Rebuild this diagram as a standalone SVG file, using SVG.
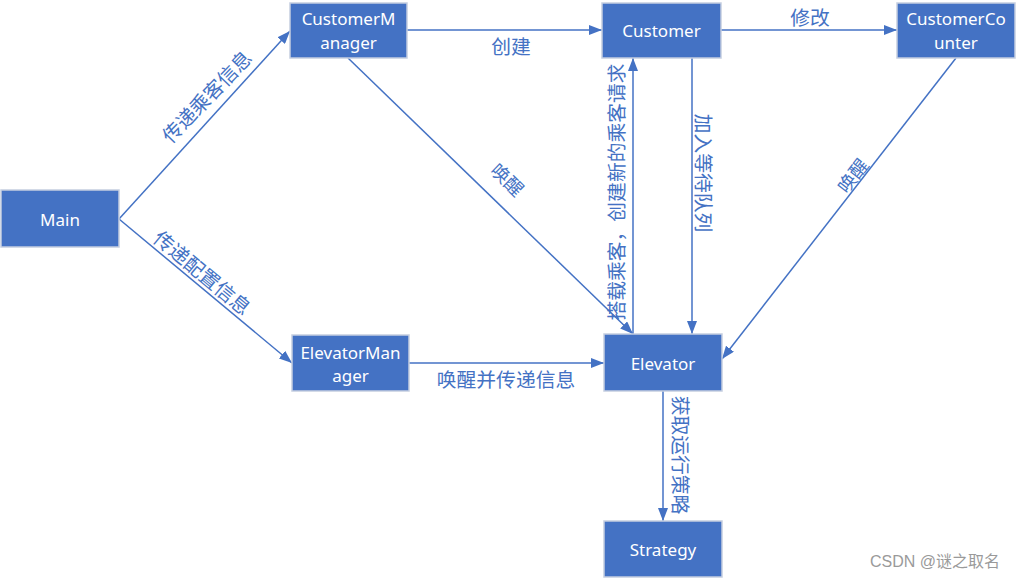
<svg xmlns="http://www.w3.org/2000/svg" width="1017" height="578" viewBox="0 0 1017 578">
<defs>
<marker id="arr" viewBox="0 0 13 10" refX="13" refY="5" markerWidth="13" markerHeight="10" markerUnits="userSpaceOnUse" orient="auto"><path d="M0,0 L13,5 L0,10 z" fill="#4472C4"/></marker>
<style>
.node rect{fill:#4472C4;stroke:#C5CEE0;stroke-width:1.5}
.node text{fill:#FFFFFF;font-family:"Noto Sans","Open Sans",sans-serif;font-size:17px;text-anchor:middle;dominant-baseline:central}
.conn line{stroke:#4472C4;stroke-width:1.5;marker-end:url(#arr)}
.lbl{fill:#4472C4;font-family:"Noto Sans CJK SC",sans-serif;font-size:19.8px;text-anchor:middle;dominant-baseline:central}
.sm{font-size:18.5px}
.wm{fill:#9a9a9a;font-family:"Liberation Sans","Noto Sans CJK SC",sans-serif;font-size:16px;text-anchor:middle;dominant-baseline:central}
</style>
</defs>
<rect width="1017" height="578" fill="#FFFFFF"/>
<g id="connectors" class="conn">
<line x1="119" y1="219" x2="290" y2="31"/>
<line x1="119" y1="219" x2="292" y2="363"/>
<line x1="407" y1="30" x2="602" y2="30"/>
<line x1="348" y1="58" x2="633" y2="334"/>
<line x1="721" y1="30" x2="897" y2="30"/>
<line x1="692" y1="58" x2="692" y2="334"/>
<line x1="633" y1="334" x2="633" y2="58"/>
<line x1="956" y1="58" x2="722" y2="359"/>
<line x1="409" y1="363" x2="604" y2="363"/>
<line x1="663" y1="391" x2="663" y2="521"/>
</g>
<g id="labels">
<text class="lbl" transform="translate(206,96) rotate(-46)">传递乘客信息</text>
<text class="lbl" transform="translate(203,272) rotate(39.6)">传递配置信息</text>
<text class="lbl" x="511" y="45">创建</text>
<text class="lbl sm" transform="translate(508,179) rotate(44.2)">唤醒</text>
<text class="lbl" x="810" y="16">修改</text>
<text class="lbl" transform="translate(704,173) rotate(90)">加入等待队列</text>
<text class="lbl" transform="translate(615,192) rotate(-90)">搭载乘客，创建新的乘客请求</text>
<text class="lbl sm" transform="translate(852,175) rotate(-52)">唤醒</text>
<text class="lbl" x="506" y="378">唤醒并传递信息</text>
<text class="lbl" transform="translate(681,455) rotate(90)">获取运行策略</text>
</g>
<g id="Main" class="node"><rect x="1" y="190" width="118" height="57"/><text x="60" y="219">Main</text></g>
<g id="CustomerManager" class="node"><rect x="290" y="3" width="117" height="55"/><text x="348.5" y="18">CustomerM</text><text x="348.5" y="42">anager</text></g>
<g id="Customer" class="node"><rect x="602" y="3" width="119" height="55"/><text x="661.5" y="30">Customer</text></g>
<g id="CustomerCounter" class="node"><rect x="897" y="3" width="118" height="55"/><text x="956" y="18">CustomerCo</text><text x="956" y="42">unter</text></g>
<g id="ElevatorManager" class="node"><rect x="292" y="335" width="117" height="56"/><text x="350.5" y="352">ElevatorMan</text><text x="350.5" y="375">ager</text></g>
<g id="Elevator" class="node"><rect x="604" y="334" width="118" height="57"/><text x="663" y="363">Elevator</text></g>
<g id="Strategy" class="node"><rect x="604" y="521" width="118" height="56"/><text x="663" y="549">Strategy</text></g>
<text class="wm" x="935" y="561">CSDN @谜之取名</text>
</svg>
